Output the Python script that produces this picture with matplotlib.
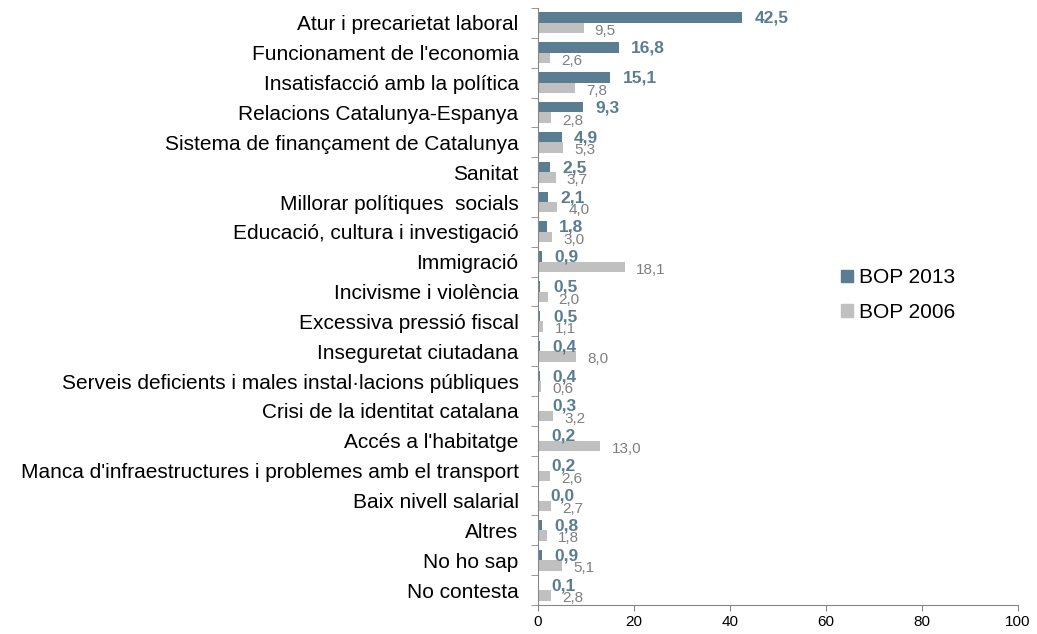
import matplotlib
matplotlib.use("Agg")
import matplotlib.pyplot as plt
from matplotlib.patches import Patch
import numpy as np

categories = ["Atur i precarietat laboral", "Funcionament de l'economia",
              "Insatisfacció amb la política", "Relacions Catalunya-Espanya",
              "Sistema de finançament de Catalunya", "Sanitat",
              "Millorar polítiques  socials", "Educació, cultura i investigació",
              "Immigració", "Incivisme i violència", "Excessiva pressió fiscal",
              "Inseguretat ciutadana",
              "Serveis deficients i males instal·lacions públiques",
              "Crisi de la identitat catalana", "Accés a l'habitatge",
              "Manca d'infraestructures i problemes amb el transport",
              "Baix nivell salarial", "Altres", "No ho sap", "No contesta"]
bop2013 = [42.5, 16.8, 15.1, 9.3, 4.9, 2.5, 2.1, 1.8, 0.9, 0.5, 0.5, 0.4, 0.4,
           0.3, 0.2, 0.2, 0.0, 0.8, 0.9, 0.1]
bop2006 = [9.5, 2.6, 7.8, 2.8, 5.3, 3.7, 4.0, 3.0, 18.1, 2.0, 1.1, 8.0, 0.6,
           3.2, 13.0, 2.6, 2.7, 1.8, 5.1, 2.8]
xticks = [0, 20, 40, 60, 80, 100]

c_dark = "#5b7d91"
c_light = "#c0c0c0"

plt.rcParams['font.family'] = ['Liberation Sans', 'DejaVu Sans']
fig = plt.figure(figsize=(10.37, 6.34), dpi=100)
ax = fig.add_axes([538/1037, 1-605/634, 480/1037, 597/634])

y = np.arange(len(categories))
h = 0.35
ax.barh(y - 0.175, bop2013, height=h, color=c_dark)
ax.barh(y + 0.175, bop2006, height=h, color=c_light)

for yi, v in zip(y, bop2013):
    ax.annotate(f"{v:.1f}".replace(".", ","), (v, yi - 0.15), xytext=(9, 0),
                textcoords="offset points", va="center", ha="left",
                fontsize=12.5, fontweight="bold", color=c_dark)
for yi, v in zip(y, bop2006):
    ax.annotate(f"{v:.1f}".replace(".", ","), (v, yi + 0.27), xytext=(8, 0),
                textcoords="offset points", va="center", ha="left",
                fontsize=11, color="#7f7f7f")

ax.set_xlim(0, 100)
ax.set_ylim(len(categories) - 0.5, -0.5)
ax.set_xticks(xticks)
ax.set_xticklabels([str(t) for t in xticks], fontsize=11)
ax.set_yticks(y)
ax.set_yticklabels(categories, fontsize=15)
ax.set_yticks(np.arange(len(categories) + 1) - 0.5, minor=True)
ax.tick_params(axis="y", which="major", length=0, pad=14)
ax.tick_params(axis="y", which="minor", length=5, color="#868686")
ax.tick_params(axis="x", length=4, color="#868686", pad=3)
for s in ["top", "right"]:
    ax.spines[s].set_visible(False)
for s in ["left", "bottom"]:
    ax.spines[s].set_color("#868686")

handles = [Patch(color=c_dark, label="BOP 2013"), Patch(color=c_light, label="BOP 2006")]
fig.legend(handles=handles, loc="upper left", bbox_to_anchor=(831/1037, 1-258/634),
           frameon=False, fontsize=15, handlelength=0.55, handleheight=0.55,
           handletextpad=0.3, labelspacing=0.75, borderpad=0)

fig.savefig("out.png", dpi=100)
